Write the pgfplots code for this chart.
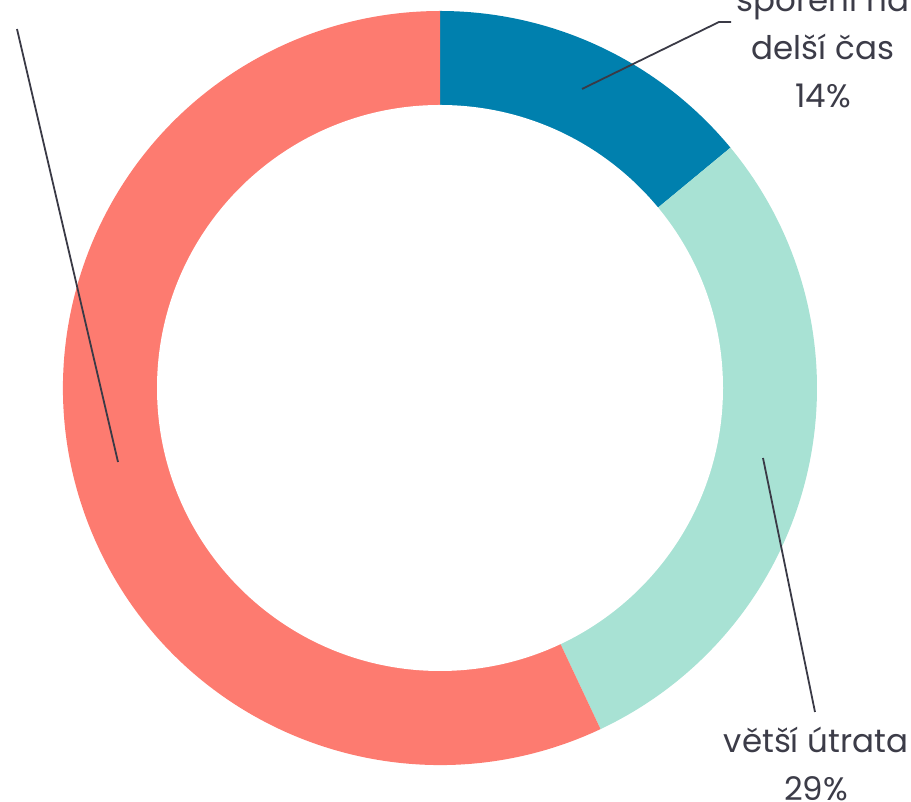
\documentclass[border=0pt]{standalone}
\usepackage{fontspec}
\setmainfont{Poppins}
\usepackage{pgfplots}
\usepackage{pgfplotstable}
\pgfplotsset{compat=1.18}
\definecolor{cBlue}{HTML}{0080AE}
\definecolor{cMint}{HTML}{A8E2D4}
\definecolor{cSalmon}{HTML}{FD7B70}
\definecolor{cText}{HTML}{3C3C48}
\definecolor{cLine}{HTML}{3A3A46}
\pgfplotstableread{
share color
14 cBlue
29 cMint
57 cSalmon
}\donut
\begin{document}
\begin{tikzpicture}
\path[use as bounding box] (0,0) rectangle (911pt,802pt);
\begin{axis}[at={(0,0)},anchor=origin,x=1pt,y=1pt,
  xmin=0,xmax=911,ymin=0,ymax=802,hide axis,clip=false,scale only axis]
\pgfplotsextra{%
  \def\startang{90}%
  \pgfplotsforeachungrouped \i in {0,1,2}{%
    \pgfplotstablegetelem{\i}{share}\of\donut \let\v\pgfplotsretval
    \pgfplotstablegetelem{\i}{color}\of\donut \let\c\pgfplotsretval
    \pgfmathsetmacro\endang{\startang-3.6*\v}%
    \fill[\c] (axis cs:440,414) -- ++(\startang:377pt)
      arc[start angle=\startang,end angle=\endang,radius=377pt] -- cycle;
    \let\startang\endang
  }%
  \fill[white] (axis cs:440,414) circle[radius=283pt];
}
\draw[cLine,line width=1.8pt] (axis cs:582,713) -- (axis cs:719,780) -- (axis cs:731,780);
\draw[cLine,line width=1.8pt] (axis cs:763,344) -- (axis cs:815,90);
\draw[cLine,line width=1.8pt] (axis cs:118,340) -- (axis cs:17,773);
\begin{scope}[every node/.style={text=cText,font=\fontsize{32.5}{48}\selectfont,anchor=base,inner sep=0pt}]
\node at (axis cs:823,790) {spoření na};
\node at (axis cs:823,742) {delší čas};
\node at (axis cs:823,694) {14\%};
\node at (axis cs:816,49) {větší útrata};
\node at (axis cs:816,1) {29\%};
\end{scope}
\end{axis}
\end{tikzpicture}
\end{document}
